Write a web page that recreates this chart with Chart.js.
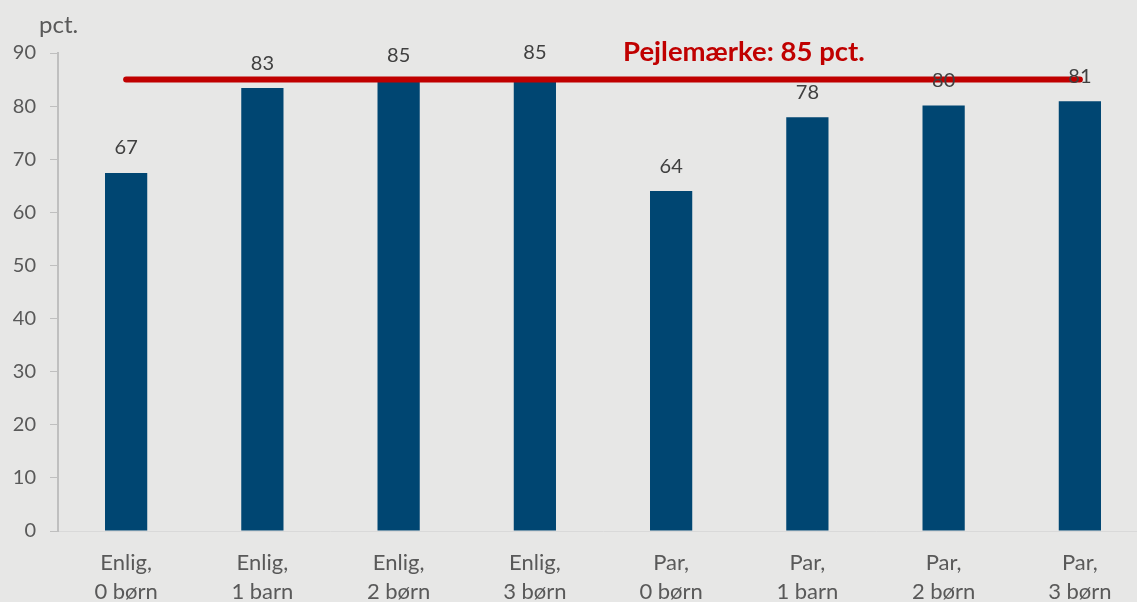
<!DOCTYPE html>
<html>
<head>
<meta charset="utf-8">
<script src="https://cdn.jsdelivr.net/npm/chart.js@4"></script>
<style>
  html, body { margin: 0; padding: 0; background: #e7e7e6; overflow: hidden; }
  #wrap { position: relative; width: 1148px; height: 602px; }
</style>
</head>
<body>
<div id="wrap"><canvas id="c"></canvas></div>
<script>
const categories = [
  ['Enlig,', '0 børn'], ['Enlig,', '1 barn'], ['Enlig,', '2 børn'], ['Enlig,', '3 børn'],
  ['Par,', '0 børn'], ['Par,', '1 barn'], ['Par,', '2 børn'], ['Par,', '3 børn']
];
const shareValues = [67.4, 83.4, 84.9, 85.4, 64.0, 77.9, 80.1, 80.9];
const benchmarkValues = [85, 85, 85, 85, 85, 85, 85, 85];
const benchmarkLabel = 'Pejlemærke: 85 pct.';
const yUnitLabel = 'pct.';
const yMin = 0, yMax = 90, yStep = 10;

const FONT = 'Lato, "Open Sans", sans-serif';

const overlay = {
  id: 'overlay',
  afterDatasetsDraw(chart) {
    const ctx = chart.ctx;
    const meta = chart.getDatasetMeta(1);
    ctx.save();
    ctx.font = '20px ' + FONT;
    ctx.fillStyle = '#404040';
    ctx.textAlign = 'center';
    ctx.textBaseline = 'middle';
    meta.data.forEach((bar, i) => {
      ctx.fillText(String(Math.round(shareValues[i])), bar.x, bar.y - 25);
    });
    // unit label
    ctx.font = '24px ' + FONT;
    ctx.fillStyle = '#595959';
    ctx.textAlign = 'left';
    ctx.textBaseline = 'alphabetic';
    ctx.fillText(yUnitLabel, 39, 33);
    // benchmark label
    const y = chart.scales.y.getPixelForValue(benchmarkValues[0]);
    ctx.font = 'bold 27.5px ' + FONT;
    ctx.fillStyle = '#c00000';
    ctx.textAlign = 'left';
    ctx.fillText(benchmarkLabel, 623, y - 18.5);
    ctx.restore();
  }
};

new Chart(document.getElementById('c'), {
  data: {
    labels: categories,
    datasets: [
      {
        type: 'line',
        data: benchmarkValues,
        borderColor: '#c00000',
        borderWidth: 6,
        borderCapStyle: 'round',
        pointRadius: 0,
        order: 0
      },
      {
        type: 'bar',
        data: shareValues,
        backgroundColor: '#004672',
        barPercentage: 0.31,
        categoryPercentage: 1,
        order: 1
      }
    ]
  },
  options: {
    responsive: true,
    maintainAspectRatio: false,
    animation: false,
    events: [],
    layout: { padding: { top: 53, right: 0, bottom: 0, left: 0 } },
    plugins: { legend: { display: false }, tooltip: { enabled: false } },
    scales: {
      x: {
        grid: { display: false, drawTicks: false },
        border: { color: '#d9d9d9', width: 1 },
        ticks: {
          color: '#595959',
          font: { family: FONT, size: 22, lineHeight: 1.32 },
          padding: 17,
          maxRotation: 0,
          autoSkip: false
        },
        afterFit(s) { s.height = 71; }
      },
      y: {
        min: yMin, max: yMax,
        grid: { drawOnChartArea: false, drawTicks: true, tickLength: 8, color: '#bfbfbf' },
        border: { color: '#bfbfbf', width: 2 },
        ticks: {
          stepSize: yStep,
          color: '#595959',
          font: { family: FONT, size: 20 },
          padding: 14
        },
        afterFit(s) { s.width = 58; }
      }
    }
  },
  plugins: [overlay]
});
</script>
</body>
</html>
